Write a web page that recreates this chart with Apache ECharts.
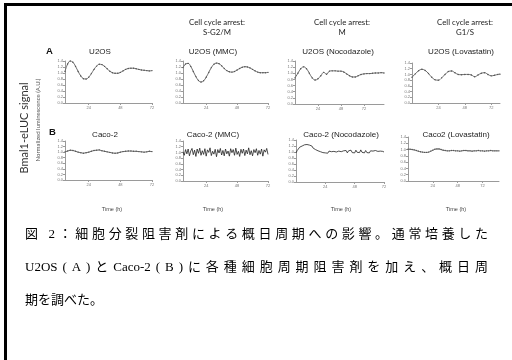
<!DOCTYPE html>
<html><head><meta charset="utf-8">
<script src="https://cdn.jsdelivr.net/npm/echarts@6/dist/echarts.min.js"></script>
<style>html,body{margin:0;padding:0;background:#fff}#c{width:512px;height:360px}</style>
</head><body><div id="c"></div>
<script>
// ---- data ----
const xTickValues = [24, 48, 72];
const yMin = 0, yMax = 1.4, yStep = 0.2;

const panelTitlesA = ['U2OS', 'U2OS (MMC)', 'U2OS (Nocodazole)', 'U2OS (Lovastatin)'];
const panelTitlesB = ['Caco-2', 'Caco-2 (MMC)', 'Caco-2 (Nocodazole)', 'Caco2 (Lovastatin)'];
const arrestHeads = ['Cell cycle arrest:', 'Cell cycle arrest:', 'Cell cycle arrest:'];
const arrestPhases = ['S-G2/M', 'M', 'G1/S'];

const tU2OS = [6,8,10,12,14,16,18,20,22,24,26,28,30,32,34,36,38,40,42,44,46,48,50,52,54,56,58,60,62,64,66,68,70,72];
const vU2OS = [1.05,1.30,1.40,1.36,1.22,1.05,0.90,0.81,0.80,0.86,0.98,1.12,1.23,1.29,1.28,1.22,1.14,1.06,1.01,0.99,0.99,1.02,1.07,1.12,1.15,1.16,1.16,1.14,1.12,1.10,1.09,1.08,1.07,1.08];

const tU2OSMMC = [6,8,10,12,14,16,18,20,22,24,26,28,30,32,34,36,38,40,42,44,46,48,50,52,54,56,58,60,62,64,66,68,70,72];
const vU2OSMMC = [1.18,1.30,1.32,1.22,1.05,0.88,0.75,0.70,0.74,0.86,1.02,1.18,1.29,1.33,1.31,1.24,1.15,1.08,1.04,1.03,1.05,1.10,1.15,1.19,1.21,1.20,1.17,1.12,1.07,1.03,1.01,1.01,1.01,1.02];

const tU2OSNoc = [0,3,6,9,12,15,18,21,24,27,30,33,36,39,42,45,48,51,54,57,60,63,66,69,72,75,78,81,84,87,90,93];
const vU2OSNoc = [0.85,1.00,1.15,1.21,1.15,1.00,0.85,0.78,0.82,0.92,1.03,0.97,1.07,1.08,1.08,1.07,1.07,1.04,0.98,0.92,0.88,0.88,0.92,0.96,0.98,0.99,0.99,1.00,1.01,1.01,1.02,1.01];

const tU2OSLov = [0,3,6,9,12,15,18,21,24,27,30,33,36,39,42,45,48,51,54,57,60,63,66,69,72,75,78,80];
const vU2OSLov = [0.90,1.02,1.13,1.18,1.14,1.03,0.90,0.81,0.80,0.88,1.00,1.10,1.12,1.06,1.00,0.99,1.00,1.00,0.98,0.92,0.98,1.04,1.06,1.00,0.95,0.97,1.00,1.01];

const tCaco = [6,8,10,12,14,16,18,20,22,24,26,28,30,32,34,36,38,40,42,44,46,48,50,52,54,56,58,60,62,64,66,68,70,72];
const vCaco = [1.01,1.04,1.07,1.06,1.03,1.00,0.98,0.96,0.98,1.00,1.03,1.06,1.07,1.08,1.05,1.03,1.01,0.99,0.97,0.96,0.97,1.00,1.02,1.03,1.04,1.04,1.03,1.03,1.02,1.01,1.00,1.01,1.03,1.02];

// hourly samples from 6 h
const vCacoMMC = [1.02,0.90,1.10,0.95,1.12,0.88,1.05,1.14,0.92,1.08,
  0.86,1.12,0.97,1.15,0.90,1.06,0.93,1.13,0.87,1.09,
  1.00,1.16,0.89,1.04,0.94,1.11,0.85,1.10,0.98,1.14,
  0.91,1.07,0.88,1.12,0.95,1.05,0.87,1.13,0.99,1.10,
  0.90,1.15,0.93,1.04,0.86,1.11,0.97,1.12,0.89,1.08,
  0.95,1.16,0.92,1.06,0.88,1.10,0.99,1.13,0.90,1.07,
  0.94,1.12,0.87,1.09,1.01,1.14,0.93];
// hourly samples from 0 h
const vCacoNoc = [0.97,1.05,1.10,1.16,1.14,1.20,1.18,1.24,1.19,1.25,
  1.21,1.23,1.17,1.20,1.13,1.15,1.08,1.11,1.04,1.07,
  1.01,1.05,0.98,1.03,0.97,1.02,0.96,1.03,0.97,1.01,
  0.95,1.02,0.96,1.00,0.95,1.03,0.97,1.01,0.96,1.04,
  0.98,1.05,0.97,1.04,0.99,1.06,0.98,1.03,0.97,1.06,
  0.99,1.04,0.98,1.07,0.99,1.03,0.97,1.05,0.98,1.02,
  0.97,1.04,0.99,1.03,0.97,1.05,0.99,1.02,0.98,1.03,
  0.98,1.02,1.00];
// 2-hourly samples from 0 h
const vCacoLov = [1.01,1.01,1.00,0.99,0.97,0.95,0.93,0.92,0.91,0.91,
  0.92,0.95,0.98,1.01,1.02,1.02,1.00,0.98,0.97,0.96,
  0.96,0.97,0.97,0.96,0.96,0.95,0.96,0.97,0.97,0.96,
  0.96,0.95,0.96,0.96,0.97,0.96,0.96,0.95,0.96,0.96,
  0.97,0.96,0.96,0.96,0.96];

const captionL1 = '図 2：細胞分裂阻害剤による概日周期への影響。通常培養した';
const captionL2 = ['U2OS','(','A',')','と','Caco-2','(','B',')'].concat(Array.from('に各種細胞周期阻害剤を加え、概日周'));
const captionL3 = '期を調べた。';

// ---- layout ----
const pair = (ts, vs) => vs.map((v, i) => [ts[i], v]);
const regular = (start, step, vs) => vs.map((v, i) => [start + i * step, v]);

const panels = [
  {grid:{left:65, top:61, width:87, height:42}, x:[6,72], data:pair(tU2OS,vU2OS), smooth:true},
  {grid:{left:183, top:61, width:85, height:42}, x:[6,72], data:pair(tU2OSMMC,vU2OSMMC), smooth:true},
  {grid:{left:295, top:61, width:89, height:43}, x:[0,93], data:pair(tU2OSNoc,vU2OSNoc), smooth:true},
  {grid:{left:412, top:63, width:88, height:40}, x:[0,80], data:pair(tU2OSLov,vU2OSLov), smooth:true},
  {grid:{left:65, top:141, width:87, height:39}, x:[6,72], data:pair(tCaco,vCaco), smooth:false},
  {grid:{left:183, top:141, width:85, height:40}, x:[6,72], data:regular(6,1,vCacoMMC), smooth:false, noisy:true},
  {grid:{left:296, top:140, width:88, height:42}, x:[0,72], data:regular(0,1,vCacoNoc), smooth:false, noisy:true},
  {grid:{left:408, top:137, width:91, height:44}, x:[0,88], data:regular(0,2,vCacoLov), smooth:true}
];

const axisCol = '#9a9a9a';
const grids = [], xAxes = [], yAxes = [], series = [];
panels.forEach((p, i) => {
  grids.push(Object.assign({outerBoundsMode:'none'}, p.grid));
  xAxes.push({type:'value', gridIndex:i, min:p.x[0], max:p.x[1],
    axisLine:{show:true, lineStyle:{color:axisCol, width:1}},
    axisTick:{show:true, customValues:xTickValues, length:2, lineStyle:{color:axisCol}},
    axisLabel:{customValues:xTickValues, fontSize:4, color:'#777', margin:3, fontFamily:'Liberation Sans'},
    splitLine:{show:false}});
  yAxes.push({type:'value', gridIndex:i, min:yMin, max:yMax, interval:yStep,
    axisLine:{show:true, lineStyle:{color:axisCol, width:1}},
    axisTick:{show:true, length:2, lineStyle:{color:axisCol}},
    axisLabel:{fontSize:4, color:'#777', margin:2, fontFamily:'Liberation Sans', formatter:v=>v.toFixed(1)},
    splitLine:{show:false}});
  series.push({type:'line', xAxisIndex:i, yAxisIndex:i, data:p.data, smooth:p.smooth ? 0.4 : false,
    showSymbol: !p.noisy, symbol:'circle', symbolSize:1.4,
    itemStyle:{color: p.noisy ? '#222' : '#555'},
    lineStyle:{color: p.noisy ? '#222' : '#6a6a6a', width: p.noisy ? 0.8 : 1},
    silent:true, animation:false});
});

const graphics = [];
// frame
graphics.push({type:'rect', shape:{x:4, y:3, width:508, height:3}, style:{fill:'#000'}});
graphics.push({type:'rect', shape:{x:4, y:3, width:3, height:357}, style:{fill:'#000'}});

function txt(x, y, text, font, fill, align, rot) {
  return {type:'text', x:x, y:y, rotation:rot||0,
    style:{text:text, font:font, fill:fill||'#222', align:align||'center', verticalAlign:'middle'}};
}
const titleFont = '8px "Liberation Sans"';
const arrFont = '7.8px Lato';
const headX = [213, 338, 461];
arrestHeads.forEach((h, i) => {
  graphics.push(txt(headX[i] + 4, 22, h, arrFont));
  graphics.push(txt(headX[i] + 4, 32, arrestPhases[i], arrFont));
});
const titleXA = [100, 213, 338, 461];
panelTitlesA.forEach((t, i) => graphics.push(txt(titleXA[i], 52, t, titleFont)));
const titleXB = [105, 213, 341, 456];
panelTitlesB.forEach((t, i) => graphics.push(txt(titleXB[i], 135, t, titleFont)));
const timeX = [112, 213, 341, 456];
timeX.forEach(x => graphics.push(txt(x, 209, 'Time (h)', '5.5px "Liberation Sans"', '#444')));
graphics.push(txt(46, 51, 'A', 'bold 9.5px "Liberation Sans"', '#111', 'left'));
graphics.push(txt(49, 132, 'B', 'bold 9.5px "Liberation Sans"', '#111', 'left'));
graphics.push(txt(24, 128, 'Bmal1-eLUC signal', '11px Lato', '#333', 'center', Math.PI / 2));
graphics.push(txt(38, 120, 'Normalized luminescence (A.U.)', '6px Lato', '#555', 'center', Math.PI / 2));

// caption, justified like the source
const capFont = '13px "Liberation Serif", "Noto Sans CJK JP"';
const mctx = document.createElement('canvas').getContext('2d');
mctx.font = capFont;
function justify(tokens, x0, x1, y) {
  const ws = tokens.map(t => mctx.measureText(t).width);
  const sum = ws.reduce((a, b) => a + b, 0);
  const gap = (x1 - x0 - sum) / (tokens.length - 1);
  let x = x0;
  tokens.forEach((t, i) => {
    if (t !== ' ') graphics.push(txt(x, y, t, capFont, '#000', 'left'));
    x += ws[i] + gap;
  });
}
justify(Array.from(captionL1), 25, 488, 235);
justify(captionL2, 25, 488, 268);
graphics.push(txt(25, 301, captionL3, capFont, '#000', 'left'));

const chart = echarts.init(document.getElementById('c'), null, {renderer:'canvas'});
chart.setOption({
  backgroundColor:'#fff', animation:false,
  grid:grids, xAxis:xAxes, yAxis:yAxes, series:series, graphic:graphics
});
</script></body></html>
